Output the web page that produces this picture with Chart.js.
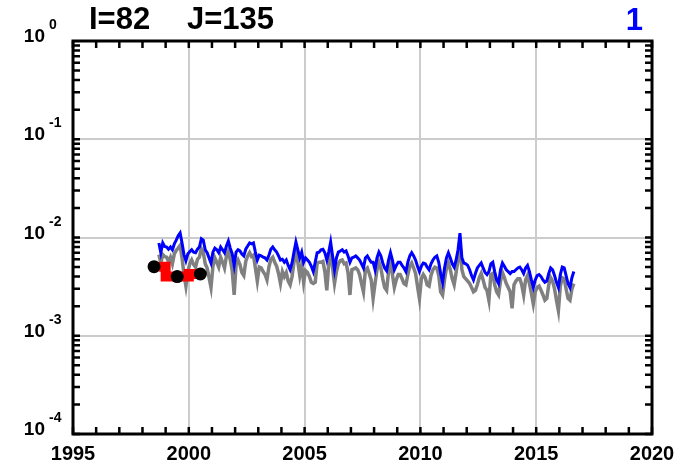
<!DOCTYPE html>
<html>
<head>
<meta charset="utf-8">
<script src="https://cdn.jsdelivr.net/npm/chart.js@4"></script>
<style>
  html, body { margin: 0; padding: 0; background: #fff; }
  #wrap { width: 700px; height: 469px; }
</style>
</head>
<body>
<div id="wrap"><canvas id="chart" width="700" height="469"></canvas></div>
<script>
// monthly series start at Sep 1998 (month index 8)
const startYear = 1998;
const startMonth = 8;

const blueSeries = [
  0.0088, 0.0070, 0.0088, 0.0081,
  0.0080, 0.0076, 0.0080, 0.0075, 0.0086, 0.0094, 0.0104, 0.0111, 0.0088, 0.0067, 0.0058, 0.0068,
  0.0072, 0.0075, 0.0071, 0.0070, 0.0076, 0.0080, 0.0097, 0.0094, 0.0075, 0.0070, 0.0062, 0.0055,
  0.0071, 0.0078, 0.0075, 0.0070, 0.0080, 0.0075, 0.0070, 0.0082, 0.0092, 0.0078, 0.0068, 0.0052,
  0.0071, 0.0075, 0.0073, 0.0068, 0.0065, 0.0076, 0.0082, 0.0088, 0.0086, 0.0088, 0.0071, 0.0059,
  0.0066, 0.0065, 0.0063, 0.0062, 0.0059, 0.0066, 0.0076, 0.0080, 0.0075, 0.0071, 0.0065, 0.0059,
  0.0060, 0.0056, 0.0059, 0.0052, 0.0047, 0.0055, 0.0071, 0.0090, 0.0075, 0.0062, 0.0071, 0.0056,
  0.0062, 0.0059, 0.0056, 0.0051, 0.0045, 0.0056, 0.0070, 0.0071, 0.0075, 0.0076, 0.0070, 0.0059,
  0.0071, 0.0090, 0.0065, 0.0047, 0.0062, 0.0071, 0.0073, 0.0075, 0.0071, 0.0073, 0.0065, 0.0056,
  0.0062, 0.0063, 0.0065, 0.0062, 0.0059, 0.0054, 0.0049, 0.0062, 0.0065, 0.0060, 0.0056, 0.0056,
  0.0047, 0.0062, 0.0071, 0.0065, 0.0055, 0.0049, 0.0046, 0.0059, 0.0070, 0.0059, 0.0047, 0.0052,
  0.0056, 0.0056, 0.0052, 0.0049, 0.0045, 0.0056, 0.0065, 0.0070, 0.0065, 0.0059, 0.0051, 0.0045,
  0.0051, 0.0055, 0.0054, 0.0050, 0.0047, 0.0054, 0.0059, 0.0063, 0.0065, 0.0056, 0.0043, 0.0035,
  0.0049, 0.0062, 0.0070, 0.0062, 0.0054, 0.0050, 0.0059, 0.0075, 0.0111, 0.0062, 0.0055, 0.0054,
  0.0052, 0.0047, 0.0041, 0.0037, 0.0043, 0.0049, 0.0052, 0.0055, 0.0049, 0.0044, 0.0042, 0.0045,
  0.0054, 0.0056, 0.0045, 0.0037, 0.0034, 0.0047, 0.0055, 0.0051, 0.0047, 0.0045, 0.0043, 0.0045,
  0.0045, 0.0047, 0.0049, 0.0050, 0.0047, 0.0043, 0.0049, 0.0052, 0.0045, 0.0037, 0.0031, 0.0037,
  0.0041, 0.0042, 0.0040, 0.0037, 0.0035, 0.0036, 0.0043, 0.0049, 0.0047, 0.0041, 0.0035, 0.0031,
  0.0042, 0.0050, 0.0049, 0.0041, 0.0034, 0.0031, 0.0039, 0.0045
];

const graySeries = [
  0.0067, 0.0055, 0.0067, 0.0064,
  0.0063, 0.0057, 0.0063, 0.0054, 0.0068, 0.0074, 0.0078, 0.0083, 0.0062, 0.0042, 0.0032, 0.0045,
  0.0054, 0.0059, 0.0053, 0.0050, 0.0060, 0.0063, 0.0077, 0.0071, 0.0054, 0.0049, 0.0039, 0.0031,
  0.0051, 0.0062, 0.0056, 0.0050, 0.0063, 0.0056, 0.0049, 0.0065, 0.0073, 0.0059, 0.0046, 0.0026,
  0.0053, 0.0059, 0.0053, 0.0044, 0.0041, 0.0057, 0.0065, 0.0070, 0.0064, 0.0066, 0.0049, 0.0036,
  0.0050, 0.0049, 0.0045, 0.0042, 0.0037, 0.0050, 0.0060, 0.0063, 0.0056, 0.0051, 0.0043, 0.0034,
  0.0045, 0.0040, 0.0044, 0.0036, 0.0033, 0.0040, 0.0056, 0.0071, 0.0056, 0.0041, 0.0053, 0.0035,
  0.0046, 0.0044, 0.0040, 0.0035, 0.0034, 0.0035, 0.0055, 0.0056, 0.0056, 0.0057, 0.0045, 0.0029,
  0.0054, 0.0071, 0.0049, 0.0034, 0.0045, 0.0054, 0.0058, 0.0059, 0.0054, 0.0055, 0.0044, 0.0026,
  0.0047, 0.0048, 0.0049, 0.0047, 0.0042, 0.0034, 0.0028, 0.0047, 0.0049, 0.0043, 0.0037, 0.0024,
  0.0034, 0.0047, 0.0056, 0.0049, 0.0038, 0.0031, 0.0029, 0.0045, 0.0055, 0.0042, 0.0031, 0.0037,
  0.0042, 0.0042, 0.0038, 0.0034, 0.0033, 0.0042, 0.0051, 0.0055, 0.0049, 0.0043, 0.0032, 0.0024,
  0.0038, 0.0042, 0.0039, 0.0033, 0.0032, 0.0041, 0.0047, 0.0050, 0.0049, 0.0041, 0.0028, 0.0026,
  0.0037, 0.0049, 0.0055, 0.0047, 0.0038, 0.0033, 0.0044, 0.0059, 0.0086, 0.0047, 0.0040, 0.0038,
  0.0036, 0.0034, 0.0031, 0.0028, 0.0029, 0.0033, 0.0039, 0.0043, 0.0037, 0.0031, 0.0029, 0.0023,
  0.0042, 0.0043, 0.0033, 0.0028, 0.0026, 0.0036, 0.0044, 0.0039, 0.0034, 0.0031, 0.0028, 0.0019,
  0.0033, 0.0036, 0.0038, 0.0038, 0.0033, 0.0026, 0.0037, 0.0041, 0.0034, 0.0027, 0.0021, 0.0028,
  0.0031, 0.0032, 0.0029, 0.0026, 0.0023, 0.0024, 0.0033, 0.0039, 0.0036, 0.0030, 0.0023, 0.0018,
  0.0032, 0.0039, 0.0038, 0.0030, 0.0024, 0.0023, 0.0030, 0.0034
];

// annual values (red steps) and annual means (black dots)
const redX = [1998.72, 1999.0, 2000.0, 2000.5];
const redY = [0.00505, 0.0040, 0.00425, 0.00425];
const dotX = [1998.5, 1999.5, 2000.5];
const dotY = [0.00505, 0.0040, 0.00425];

// axes
const xMin = 1995, xMax = 2020;
const xLabels = [1995, 2000, 2005, 2010, 2015, 2020];
const yExponents = [0, -1, -2, -3, -4];

const titleLeft = 'I=82';
const titleRight = 'J=135';
const cornerLabel = '1';

function monthly(values) {
  return values.map((v, i) => ({ x: startYear + (startMonth + i + 0.5) / 12, y: v }));
}
function pairs(xs, ys) {
  return xs.map((x, i) => ({ x: x, y: ys[i] }));
}

const FONT = '"Liberation Sans", Arial, Helvetica, sans-serif';

const framePlugin = {
  id: 'frame',
  afterDraw(chart) {
    const { ctx, chartArea: a, scales: { x, y } } = chart;
    ctx.save();
    ctx.strokeStyle = '#000';
    ctx.lineCap = 'butt';

    // inward ticks
    ctx.lineWidth = 2.5;
    ctx.beginPath();
    for (let yr = xMin; yr <= xMax; yr++) {
      const px = x.getPixelForValue(yr);
      ctx.moveTo(px, a.bottom); ctx.lineTo(px, a.bottom - 7);
      ctx.moveTo(px, a.top); ctx.lineTo(px, a.top + 7);
    }
    for (let e = -4; e < 0; e++) {
      for (let m = 1; m <= 9; m++) {
        const py = y.getPixelForValue(m * Math.pow(10, e));
        ctx.moveTo(a.left, py); ctx.lineTo(a.left + 7, py);
        ctx.moveTo(a.right, py); ctx.lineTo(a.right - 7, py);
      }
    }
    ctx.stroke();

    // box
    ctx.lineWidth = 3;
    ctx.strokeRect(a.left, a.top, a.right - a.left, a.bottom - a.top);

    // x labels
    ctx.fillStyle = '#000';
    ctx.font = 'bold 20px ' + FONT;
    ctx.textAlign = 'center';
    ctx.textBaseline = 'alphabetic';
    xLabels.forEach(v => ctx.fillText(String(v), x.getPixelForValue(v), 460));

    // y labels 10^n
    yExponents.forEach(e => {
      const py = y.getPixelForValue(Math.pow(10, e));
      ctx.font = 'bold 19px ' + FONT;
      ctx.textAlign = 'right';
      ctx.fillText('10', 45, py + 1);
      ctx.font = 'bold 14px ' + FONT;
      ctx.textAlign = 'left';
      ctx.fillText(String(e), 49, py - 12);
    });

    // titles
    ctx.font = 'bold 31px ' + FONT;
    ctx.textAlign = 'left';
    ctx.fillText(titleLeft, 89, 29);
    ctx.fillText(titleRight, 187, 29);
    ctx.fillStyle = '#0000ff';
    ctx.textAlign = 'right';
    ctx.fillText(cornerLabel, 643, 30);
    ctx.restore();
  }
};

new Chart(document.getElementById('chart'), {
  type: 'line',
  data: {
    datasets: [
      {
        label: 'means',
        data: pairs(dotX, dotY),
        showLine: false,
        pointRadius: 6.5,
        pointBackgroundColor: '#000',
        pointBorderWidth: 0,
        order: 0
      },
      {
        label: 'annual',
        data: pairs(redX, redY),
        borderColor: '#ff0000',
        borderWidth: 10,
        stepped: true,
        borderJoinStyle: 'miter',
        borderCapStyle: 'butt',
        pointRadius: 0,
        order: 1
      },
      {
        label: 'blue',
        data: monthly(blueSeries),
        borderColor: '#0000ff',
        borderWidth: 3,
        pointRadius: 0,
        tension: 0,
        order: 2
      },
      {
        label: 'gray',
        data: monthly(graySeries),
        borderColor: '#808080',
        borderWidth: 3.5,
        pointRadius: 0,
        tension: 0,
        order: 3
      }
    ]
  },
  options: {
    responsive: false,
    animation: false,
    layout: { padding: { top: 41, right: 48, left: 0, bottom: 0 } },
    plugins: {
      legend: { display: false },
      tooltip: { enabled: false }
    },
    scales: {
      x: {
        type: 'linear',
        min: xMin,
        max: xMax,
        afterBuildTicks: s => { s.ticks = xLabels.map(v => ({ value: v })); },
        afterFit: s => { s.height = 35; },
        ticks: { display: false },
        border: { display: false },
        grid: {
          drawTicks: false,
          lineWidth: 2,
          color: c => (c.tick && c.tick.value > xMin && c.tick.value < xMax) ? '#cccccc' : 'rgba(0,0,0,0)'
        }
      },
      y: {
        type: 'logarithmic',
        min: 1e-4,
        max: 1,
        afterBuildTicks: s => { s.ticks = yExponents.map(e => ({ value: Math.pow(10, e) })); },
        afterFit: s => { s.width = 73; },
        ticks: { display: false },
        border: { display: false },
        grid: {
          drawTicks: false,
          lineWidth: 2,
          color: c => (c.tick && c.tick.value > 1.5e-4 && c.tick.value < 0.5) ? '#cccccc' : 'rgba(0,0,0,0)'
        }
      }
    }
  },
  plugins: [framePlugin]
});
</script>
</body>
</html>
